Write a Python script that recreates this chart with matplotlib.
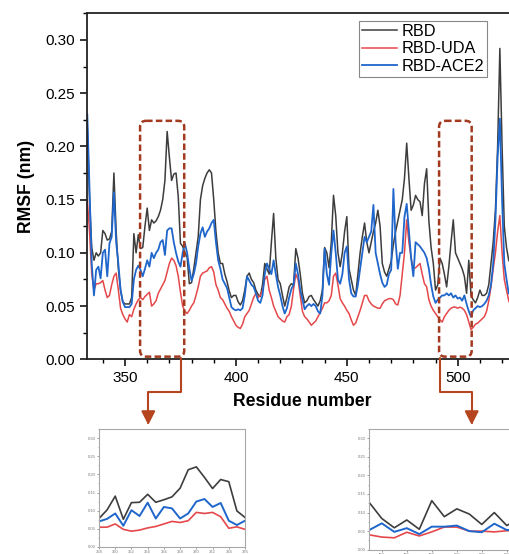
import numpy as np
import matplotlib
matplotlib.use("Agg")
import matplotlib.pyplot as plt
from matplotlib.patches import FancyBboxPatch, FancyArrowPatch
from matplotlib.path import Path
from matplotlib.transforms import Affine2D
from matplotlib.ticker import MultipleLocator

plt.rcParams['font.family'] = ['Liberation Sans', 'DejaVu Sans']

####################################################################################
### Data
####################################################################################
residues = np.arange(333, 528)

rmsf_rbd = [
    0.220, 0.150, 0.105, 0.093, 0.100, 0.097, 0.100, 0.121, 0.118, 0.112,
    0.113, 0.120, 0.175, 0.120, 0.085, 0.065, 0.054, 0.052, 0.052, 0.052,
    0.058, 0.118, 0.100, 0.117, 0.104, 0.105, 0.125, 0.142, 0.121, 0.131,
    0.128, 0.130, 0.134, 0.140, 0.150, 0.168, 0.214, 0.190, 0.168, 0.174,
    0.175, 0.153, 0.109, 0.106, 0.100, 0.096, 0.071, 0.072, 0.085, 0.100,
    0.115, 0.150, 0.163, 0.170, 0.175, 0.178, 0.175, 0.150, 0.120, 0.100,
    0.090, 0.090, 0.080, 0.073, 0.064, 0.058, 0.060, 0.060, 0.054, 0.051,
    0.055, 0.065, 0.078, 0.081, 0.075, 0.072, 0.065, 0.061, 0.059, 0.070,
    0.090, 0.085, 0.080, 0.110, 0.137, 0.095, 0.075, 0.071, 0.060, 0.050,
    0.058, 0.068, 0.071, 0.070, 0.104, 0.095, 0.080, 0.062, 0.053, 0.055,
    0.059, 0.060, 0.056, 0.053, 0.050, 0.055, 0.065, 0.105, 0.100, 0.086,
    0.110, 0.154, 0.135, 0.100, 0.087, 0.100, 0.120, 0.134, 0.085, 0.075,
    0.065, 0.060, 0.080, 0.100, 0.115, 0.128, 0.110, 0.100, 0.110, 0.120,
    0.128, 0.140, 0.125, 0.090, 0.082, 0.078, 0.085, 0.092, 0.108, 0.120,
    0.130, 0.140, 0.150, 0.170, 0.203, 0.170, 0.140, 0.145, 0.154, 0.150,
    0.148, 0.135, 0.165, 0.179, 0.130, 0.105, 0.090, 0.065, 0.070, 0.095,
    0.090, 0.080, 0.068, 0.087, 0.110, 0.131, 0.100, 0.095, 0.090, 0.085,
    0.078, 0.062, 0.093, 0.060, 0.056, 0.053, 0.058, 0.065, 0.060, 0.060,
    0.062, 0.070, 0.090, 0.110, 0.140, 0.200, 0.292, 0.200, 0.125, 0.105,
    0.093, 0.090, 0.100, 0.120, 0.140,
]

rmsf_uda = [
    0.150, 0.120, 0.080, 0.065, 0.071, 0.071, 0.072, 0.074, 0.065, 0.058,
    0.060, 0.070, 0.078, 0.081, 0.065, 0.048, 0.042, 0.038, 0.035, 0.042,
    0.040, 0.047, 0.052, 0.056, 0.058, 0.056, 0.059, 0.061, 0.063, 0.050,
    0.052, 0.055, 0.062, 0.066, 0.070, 0.074, 0.082, 0.090, 0.095, 0.093,
    0.088, 0.078, 0.063, 0.050, 0.045, 0.043, 0.046, 0.050, 0.053, 0.060,
    0.068, 0.078, 0.081, 0.082, 0.083, 0.086, 0.087, 0.082, 0.070, 0.065,
    0.058, 0.056, 0.052, 0.048, 0.045, 0.040, 0.036, 0.032, 0.030, 0.029,
    0.033, 0.040, 0.043, 0.046, 0.052, 0.058, 0.062, 0.058, 0.060, 0.065,
    0.075, 0.078, 0.065, 0.058, 0.050, 0.045, 0.040, 0.038, 0.036, 0.035,
    0.040, 0.042, 0.050, 0.066, 0.080, 0.075, 0.060, 0.045, 0.040, 0.038,
    0.035, 0.032, 0.034, 0.036, 0.040, 0.044, 0.048, 0.053, 0.053, 0.055,
    0.060, 0.078, 0.081, 0.070, 0.057, 0.053, 0.050, 0.046, 0.043, 0.037,
    0.032, 0.034, 0.040, 0.046, 0.053, 0.060, 0.060, 0.055, 0.052, 0.050,
    0.049, 0.048, 0.048, 0.052, 0.055, 0.056, 0.057, 0.057, 0.056, 0.052,
    0.051, 0.060, 0.080, 0.100, 0.131, 0.110, 0.095, 0.085, 0.086, 0.088,
    0.090, 0.080, 0.071, 0.068, 0.056, 0.050, 0.046, 0.043, 0.040, 0.037,
    0.035, 0.040, 0.043, 0.046, 0.048, 0.049, 0.049, 0.048, 0.049, 0.048,
    0.046, 0.042, 0.035, 0.028, 0.030, 0.033, 0.034, 0.036, 0.038, 0.040,
    0.045, 0.055, 0.068, 0.085, 0.100, 0.120, 0.135, 0.100, 0.075, 0.065,
    0.055, 0.050, 0.050, 0.055, 0.060,
]

rmsf_ace2 = [
    0.230, 0.160, 0.090, 0.060, 0.084, 0.087, 0.076, 0.100, 0.103, 0.078,
    0.109, 0.115, 0.157, 0.110, 0.090, 0.065, 0.054, 0.049, 0.049, 0.049,
    0.052, 0.075, 0.084, 0.088, 0.084, 0.078, 0.085, 0.093, 0.087, 0.100,
    0.095, 0.100, 0.103, 0.110, 0.112, 0.098, 0.121, 0.123, 0.123, 0.110,
    0.100, 0.092, 0.087, 0.100, 0.109, 0.100, 0.085, 0.074, 0.080, 0.090,
    0.106, 0.118, 0.124, 0.115, 0.120, 0.123, 0.128, 0.131, 0.110, 0.093,
    0.085, 0.075, 0.071, 0.067, 0.058, 0.049, 0.047, 0.046, 0.047, 0.046,
    0.048, 0.060, 0.078, 0.074, 0.070, 0.068, 0.062, 0.055, 0.053, 0.060,
    0.080, 0.090, 0.085, 0.080, 0.093, 0.080, 0.068, 0.060, 0.050, 0.043,
    0.048, 0.058, 0.066, 0.070, 0.090, 0.080, 0.065, 0.056, 0.047, 0.050,
    0.052, 0.050, 0.052, 0.050, 0.045, 0.043, 0.060, 0.104, 0.080, 0.070,
    0.100, 0.121, 0.100, 0.075, 0.071, 0.080, 0.100, 0.106, 0.075, 0.062,
    0.059, 0.059, 0.070, 0.085, 0.100, 0.115, 0.110, 0.115, 0.120, 0.145,
    0.100, 0.090, 0.080, 0.072, 0.068, 0.070, 0.080, 0.084, 0.160, 0.110,
    0.085, 0.100, 0.100, 0.134, 0.146, 0.120, 0.095, 0.078, 0.110, 0.108,
    0.106, 0.103, 0.100, 0.095, 0.085, 0.070, 0.059, 0.053, 0.056, 0.058,
    0.060, 0.060, 0.062, 0.060, 0.062, 0.058, 0.060, 0.057, 0.058, 0.055,
    0.060, 0.052, 0.045, 0.040, 0.046, 0.048, 0.050, 0.049, 0.050, 0.052,
    0.055, 0.060, 0.070, 0.090, 0.130, 0.190, 0.226, 0.150, 0.090, 0.075,
    0.062, 0.060, 0.070, 0.080, 0.090,
]

# zoomed windows
win1_res = np.arange(358, 377)
win1_rbd = [0.078, 0.102, 0.140, 0.076, 0.122, 0.123, 0.145, 0.123, 0.130, 0.138,
            0.162, 0.213, 0.221, 0.192, 0.161, 0.186, 0.180, 0.099, 0.081]
win1_uda = [0.054, 0.054, 0.063, 0.048, 0.043, 0.046, 0.052, 0.056, 0.063, 0.070,
            0.067, 0.072, 0.095, 0.092, 0.095, 0.083, 0.051, 0.055, 0.048]
win1_ace2 = [0.070, 0.077, 0.092, 0.058, 0.101, 0.085, 0.122, 0.078, 0.110, 0.106,
             0.078, 0.092, 0.125, 0.132, 0.110, 0.121, 0.072, 0.060, 0.072]

win2_res = np.arange(493, 506)
win2_rbd = [0.127, 0.084, 0.059, 0.080, 0.055, 0.132, 0.089, 0.110, 0.096, 0.068,
            0.100, 0.065, 0.085]
win2_uda = [0.040, 0.034, 0.032, 0.047, 0.037, 0.048, 0.061, 0.061, 0.050, 0.050,
            0.048, 0.051, 0.052]
win2_ace2 = [0.053, 0.071, 0.048, 0.058, 0.042, 0.062, 0.062, 0.065, 0.050, 0.047,
             0.070, 0.053, 0.055]

c_rbd = '#3d3d3d'
c_uda = '#e5484b'
c_ace2 = '#1f66cc'
c_box = '#a33a1f'

####################################################################################
### Figure
####################################################################################
W, H = 509, 554
fig = plt.figure(figsize=(W / 100, H / 100), dpi=100)
fig.patch.set_facecolor('white')

ax = fig.add_axes([87.3 / W, 1 - 359.3 / H, 430.3 / W, 346.0 / H])
ax.plot(residues, rmsf_rbd, c=c_rbd, lw=1.1, label='RBD')
ax.plot(residues, rmsf_uda, c=c_uda, lw=1.1, label='RBD-UDA')
ax.plot(residues, rmsf_ace2, c=c_ace2, lw=1.3, label='RBD-ACE2')
ax.set_xlim(333, 527)
ax.set_ylim(0, 0.325)
ax.set_yticks(np.arange(0, 0.31, 0.05))
ax.yaxis.set_minor_locator(MultipleLocator(0.025))
ax.set_xticks([350, 400, 450, 500])
ax.xaxis.set_minor_locator(MultipleLocator(10))
ax.tick_params(axis='both', which='major', direction='out', length=5, width=1.1, labelsize=11)
ax.tick_params(axis='both', which='minor', direction='out', length=3, width=1.0)
for s in ax.spines.values():
    s.set_linewidth(1.3)
    s.set_color('#222222')
ax.set_xlabel('Residue number', fontsize=12.7, fontweight='bold', labelpad=6)
ax.set_ylabel('RMSF (nm)', fontsize=12.7, fontweight='bold', labelpad=8)

leg = ax.legend(loc='upper left', bbox_to_anchor=(0.631, 0.978), fontsize=11.7,
                frameon=True, fancybox=False, edgecolor='#888888', framealpha=1,
                handlelength=2.2, handletextpad=0.25, borderpad=0.18, labelspacing=0.15,
                borderaxespad=0)
leg.get_frame().set_linewidth(0.8)

# pixel transform (origin top-left)
px = Affine2D().scale(1, -1).translate(0, H)

def data_to_px(x, y):
    dx, dy = ax.transData.transform((x, y))
    return dx, H - dy

for x0, x1 in [(356.8, 376.7), (491.6, 506.3)]:
    l, t = data_to_px(x0, 0.224)
    r, b = data_to_px(x1, 0.0025)
    box = FancyBboxPatch((l + 6, t + 6), (r - l) - 12, (b - t) - 12,
                         boxstyle='round,pad=6', transform=px, fill=False,
                         ec=c_box, lw=1.8, ls=(0, (2.6, 1.3)), zorder=5)
    fig.add_artist(box)

arrows = [
    [(180.7, 358), (180.7, 391.7), (148.3, 391.7), (148.3, 425)],
    [(440.0, 358), (440.0, 391.7), (471.7, 391.7), (471.7, 425)],
]
for pts in arrows:
    path = Path(pts, [Path.MOVETO] + [Path.LINETO] * (len(pts) - 1))
    arr = FancyArrowPatch(path=path, arrowstyle='-|>,head_length=0.55,head_width=0.28',
                          mutation_scale=15, color='#b5451f', lw=1.5, transform=px)
    fig.add_artist(arr)

####################################################################################
### Insets
####################################################################################
def inset(rect, res, rbd, uda, ace2, xlim, xticks):
    a = fig.add_axes(rect)
    a.plot(res, rbd, c=c_rbd, lw=1.2)
    a.plot(res, uda, c=c_uda, lw=1.2)
    a.plot(res, ace2, c=c_ace2, lw=1.4)
    a.set_xlim(*xlim)
    a.set_ylim(0, 0.325)
    a.set_yticks(np.arange(0, 0.31, 0.05))
    a.yaxis.set_minor_locator(MultipleLocator(0.025))
    a.set_xticks(xticks)
    a.tick_params(axis='both', which='major', direction='out', length=1.5, width=0.5,
                  labelsize=3, colors='#777777', pad=1)
    a.tick_params(axis='both', which='minor', direction='out', length=1, width=0.4,
                  colors='#777777')
    for s in a.spines.values():
        s.set_linewidth(0.8)
        s.set_color('#a8a8a8')
    return a

inset([99 / W, 1 - 546.7 / H, 146 / W, 117.4 / H], win1_res, win1_rbd, win1_uda,
      win1_ace2, (358, 376), np.arange(358, 377, 2))
inset([369.3 / W, 1 - 549.7 / H, 175 / W, 120.7 / H], win2_res, win2_rbd, win2_uda,
      win2_ace2, (493, 507), np.arange(494, 507, 2))

fig.savefig('out.png', dpi=100)
